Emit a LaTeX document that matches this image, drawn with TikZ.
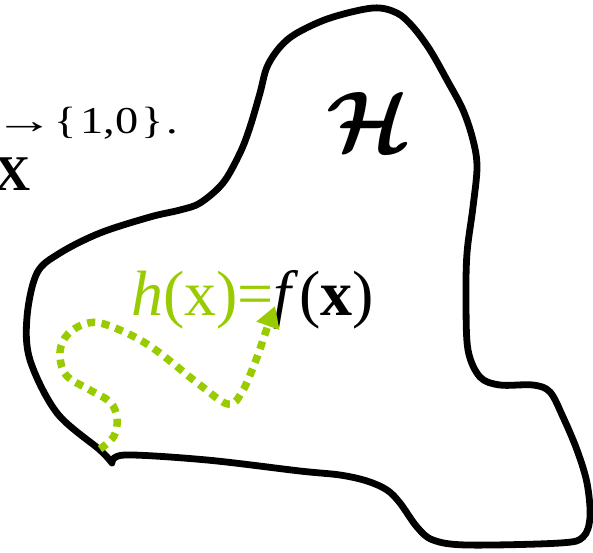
\documentclass[tikz,border=0pt]{standalone}
\usepackage{amsmath,amssymb,bm}
\usepackage{fontspec}
\setmainfont{Liberation Serif}
\usepackage{xcolor}
\usetikzlibrary{arrows.meta}
\definecolor{hgreen}{RGB}{153,204,0}

\begin{document}
\begin{tikzpicture}[x=1pt, y=-1pt,
    blob/.style={line width=6.8pt, line join=round, line cap=round},
    walk/.style={hgreen, line width=7.5pt, dash pattern=on 8pt off 6.5pt, -{Triangle[length=21pt, width=23pt]}},
    lbl/.style={inner sep=0pt, anchor=base west},
]
\useasboundingbox (0,0) rectangle (593,552);

% hypothesis space
\draw[blob] plot[smooth, tension=0.55] coordinates {
    (112,463) (125,455) (207,460) (300,471) (340,475) (367,481) (387,490) (400,503)
    (417,527) (433,540) (467,545) (560,543) (583,537) (590,517) (587,483) (577,450)
    (563,417) (550,392) (533,385) (500,385) (480,377) (468,350) (466,300) (467,253)
    (473,207) (477,167) (473,140) (463,110) (447,80) (430,50) (413,27) (397,13)
    (373,8) (330,18) (297,33) (280,47) (267,67) (260,93) (250,127) (240,153)
    (223,183) (200,203) (180,210) (150,217) (100,233) (60,253) (37,273) (27,317)
    (30,360) (57,413) (100,450) (112,463)};

\node[lbl] (hyp) at (326,151) {\scalebox{8.6}{$\bm{\mathcal{H}}$}};

\node[lbl] (target) at (-6,133) {\fontsize{38}{38}\selectfont\scalebox{1.22}[1]{\scalebox{1.3}[1]{→}\{\hspace{3pt}1,0\hspace{3pt}\}\hspace{2pt}.}};
\node[lbl] (domain) at (-6,190) {\fontsize{50}{50}\selectfont\textbf{X}};

\node[lbl] (eq) at (131,315) {\fontsize{64}{64}\selectfont\textcolor{hgreen}{\textit{h}(x)=}\textit{f}(\textbf{x})};

\coordinate (wstart) at (100,449);
\coordinate (wend) at (275,306);
\draw[walk] plot[smooth, tension=0.6] coordinates {
    (wstart) (114,436) (117,418) (110,402) (90,390) (66,375) (60,352) (68,334)
    (88,323) (110,326) (150,346) (200,385) (228,404) (242,392) (256,360) (265,334) (wend)};
\end{tikzpicture}
\end{document}
